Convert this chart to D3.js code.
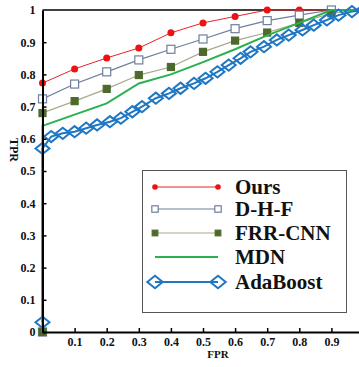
<!DOCTYPE html>
<html lang="en">
<head>
<meta charset="UTF-8">
<title>ROC</title>
<script src="https://d3js.org/d3.v7.min.js"></script>
<style>
  body { margin: 0; background: #fff; }
  svg { display: block; }
  text { font-family: "Liberation Serif", "Times New Roman", serif; font-weight: bold; }
</style>
</head>
<body>
<svg></svg>
<script>
const width = 359, height = 367;

// data
const oursX = [0, 0, 0.1, 0.2, 0.3, 0.4, 0.5, 0.6, 0.7, 0.8, 0.9, 1];
const oursY = [0, 0.773, 0.817, 0.851, 0.882, 0.929, 0.96, 0.98, 1.0, 1.0, 1.0, 1.0];
const dhfX = [0, 0, 0.1, 0.2, 0.3, 0.4, 0.5, 0.6, 0.7, 0.8, 0.9, 1];
const dhfY = [0, 0.724, 0.77, 0.808, 0.845, 0.878, 0.91, 0.942, 0.967, 0.984, 1.0, 1.0];
const frrX = [0, 0, 0.1, 0.2, 0.3, 0.4, 0.5, 0.6, 0.7, 0.8, 0.9, 1];
const frrY = [0, 0.68, 0.717, 0.755, 0.798, 0.823, 0.87, 0.905, 0.93, 0.96, 0.99, 1.0];
const mdnX = [0, 0, 0.1, 0.2, 0.3, 0.4, 0.5, 0.6, 0.7, 0.8, 0.9, 1];
const mdnY = [0, 0.64, 0.675, 0.71, 0.772, 0.80, 0.838, 0.878, 0.921, 0.96, 1.0, 1.0];
const adaX = [0, 0, 0.027, 0.063, 0.1, 0.136, 0.17, 0.21, 0.244, 0.28, 0.31, 0.353, 0.394, 0.43,
  0.472, 0.508, 0.545, 0.58, 0.617, 0.648, 0.69, 0.73, 0.767, 0.81, 0.845, 0.886, 0.922, 0.964, 1];
const adaY = [0.03, 0.57, 0.607, 0.617, 0.622, 0.633, 0.643, 0.653, 0.664, 0.684, 0.70, 0.726, 0.741, 0.757,
  0.772, 0.788, 0.808, 0.829, 0.85, 0.87, 0.886, 0.907, 0.922, 0.938, 0.953, 0.969, 0.984, 0.995, 1];

const seriesNames = ["Ours", "D-H-F", "FRR-CNN", "MDN", "AdaBoost"];
const yTicks = [0, 0.1, 0.2, 0.3, 0.4, 0.5, 0.6, 0.7, 0.8, 0.9, 1];
const xTicks = [0.1, 0.2, 0.3, 0.4, 0.5, 0.6, 0.7, 0.8, 0.9];

const series = [
  { name: seriesNames[0], xs: oursX, ys: oursY, line: "#e5242a", w: 1, marker: "circle", fill: "#ee1111", stroke: "#ee1111", size: 3.5 },
  { name: seriesNames[1], xs: dhfX, ys: dhfY, line: "#6f7f9c", w: 1.2, marker: "square", fill: "#fff", stroke: "#6f7f9c", size: 8 },
  { name: seriesNames[2], xs: frrX, ys: frrY, line: "#a9a88a", w: 1.2, marker: "square", fill: "#4d6a2c", stroke: "#4d6a2c", size: 7 },
  { name: seriesNames[3], xs: mdnX, ys: mdnY, line: "#2bb04f", w: 2, marker: null },
  { name: seriesNames[4], xs: adaX, ys: adaY, line: "#1f77c4", w: 2, marker: "diamond", fill: "none", stroke: "#1f77c4", size: 14 }
];

const svg = d3.select("svg").attr("width", width).attr("height", height);

const x = d3.scaleLinear().domain([0, 1]).range([42.5, 363.5]);
const y = d3.scaleLinear().domain([0, 1]).range([332, 10]);

const fmt = d => d === 0 ? "0" : d === 1 ? "1" : d3.format(".1f")(d);

// top frame
svg.append("line")
  .attr("x1", x(0)).attr("x2", x(1))
  .attr("y1", y(1)).attr("y2", y(1))
  .attr("stroke", "#000").attr("stroke-width", 1.5);

const line = d3.line().x(d => x(d[0])).y(d => y(d[1]));

function drawMarker(g, s, cx, cy, scale) {
  const k = scale || 1;
  if (s.marker === "circle") {
    g.append("circle").attr("cx", cx).attr("cy", cy).attr("r", s.size * k).attr("fill", s.fill);
  } else if (s.marker === "square") {
    const a = s.size * k;
    g.append("rect").attr("x", cx - a / 2).attr("y", cy - a / 2).attr("width", a).attr("height", a)
      .attr("fill", s.fill).attr("stroke", s.stroke).attr("stroke-width", 1.2);
  } else if (s.marker === "diamond") {
    const hw = s.size * k / 2, hh = s.size * k * 0.4;
    g.append("path")
      .attr("d", `M${cx - hw},${cy}L${cx},${cy - hh}L${cx + hw},${cy}L${cx},${cy + hh}Z`)
      .attr("fill", s.fill).attr("stroke", s.stroke).attr("stroke-width", 2);
  }
}

series.forEach(s => {
  const pts = s.xs.map((v, i) => [v, s.ys[i]]);
  const g = svg.append("g");
  g.append("path").datum(pts).attr("d", line)
    .attr("fill", "none").attr("stroke", s.line).attr("stroke-width", s.w);
  if (s.marker) pts.forEach(p => drawMarker(g, s, x(p[0]), y(p[1])));
});

// axes
const yAxis = d3.axisLeft(y).tickValues(yTicks).tickFormat(fmt).tickSize(-4).tickSizeOuter(0).tickPadding(7);
const xAxis = d3.axisBottom(x).tickValues(xTicks).tickFormat(fmt).tickSize(-4).tickSizeOuter(0).tickPadding(5);

const gy = svg.append("g").attr("transform", `translate(${x(0)},0)`).call(yAxis);
const gx = svg.append("g").attr("transform", `translate(0,${y(0)})`).call(xAxis);
[gx, gy].forEach(g => {
  g.select(".domain").attr("stroke", "#000").attr("stroke-width", 2);
  g.selectAll(".tick line").attr("stroke", "#000").attr("stroke-width", 1.5);
  g.selectAll(".tick text").attr("fill", "#111").style("font-size", "12px")
    .style("font-family", "'Liberation Serif', 'Times New Roman', serif").style("font-weight", "bold");
});
gy.select(".tick:last-of-type line").remove();

svg.append("text").attr("x", 218).attr("y", 358).attr("text-anchor", "middle")
  .style("font-size", "11px").attr("fill", "#111").text("FPR");
svg.append("text").attr("transform", "translate(10,150) rotate(90)").attr("text-anchor", "middle")
  .style("font-size", "12px").attr("fill", "#111").text("TPR");

// legend
const lg = svg.append("g");
lg.append("rect").attr("x", 142.5).attr("y", 170.5).attr("width", 204).attr("height", 142)
  .attr("fill", "#fff").attr("stroke", "#555").attr("stroke-width", 1);
const rowY = [187, 209, 233, 257, 282];
series.forEach((s, i) => {
  const yy = rowY[i];
  lg.append("line").attr("x1", 155).attr("x2", 218).attr("y1", yy).attr("y2", yy)
    .attr("stroke", s.line).attr("stroke-width", s.w);
  if (s.marker) {
    drawMarker(lg, s, 155, yy, s.marker === "diamond" ? 1.1 : 0.8);
    drawMarker(lg, s, 218, yy, s.marker === "diamond" ? 1.1 : 0.8);
  }
  lg.append("text").attr("x", 235).attr("y", yy + 7).style("font-size", "21px").attr("fill", "#111").text(s.name);
});
</script>
</body>
</html>
